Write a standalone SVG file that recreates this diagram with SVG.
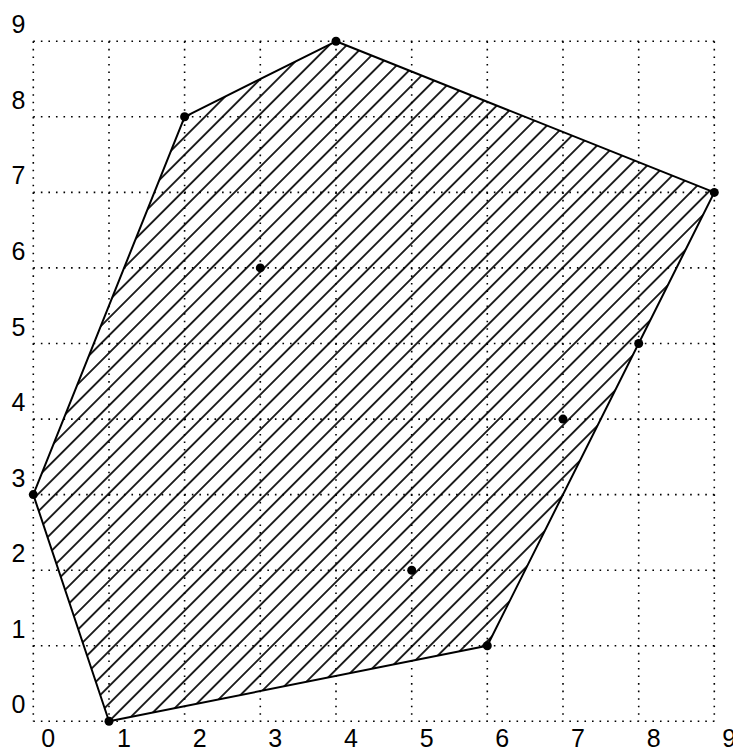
<svg xmlns="http://www.w3.org/2000/svg" width="733" height="749" viewBox="0 0 733 749">
<style>
.grid{stroke:#000;stroke-width:1.6;stroke-dasharray:1.6 5.95;fill:none}
.hull{fill:url(#hatch);stroke:#000;stroke-width:2;stroke-linejoin:round}
.pt{fill:#000}
.lbl{font-family:"Liberation Sans",Arial,sans-serif;font-size:25px;fill:#000}
</style>
<defs>
<pattern id="hatch" patternUnits="userSpaceOnUse" width="20" height="12.4" patternTransform="translate(109 721.3) rotate(-45)">
<line x1="0" y1="0" x2="20" y2="0" stroke="#000" stroke-width="1.7"/>
<line x1="0" y1="12.4" x2="20" y2="12.4" stroke="#000" stroke-width="1.7"/>
</pattern>
</defs>
<g id="grid">
<path class="grid" d="M33.3 721.3H714.3M33.3 645.7H714.3M33.3 570.2H714.3M33.3 494.6H714.3M33.3 419.1H714.3M33.3 343.5H714.3M33.3 267.9H714.3M33.3 192.4H714.3M33.3 116.8H714.3M33.3 41.3H714.3"/>
<path class="grid" d="M33.3 41.3V721.3M109 41.3V721.3M184.6 41.3V721.3M260.3 41.3V721.3M336 41.3V721.3M411.7 41.3V721.3M487.3 41.3V721.3M563 41.3V721.3M638.7 41.3V721.3M714.3 41.3V721.3"/>
</g>
<g id="axis-labels" class="lbl">
<text x="18.5" y="713.3" text-anchor="middle">0</text>
<text x="18.5" y="637.7" text-anchor="middle">1</text>
<text x="18.5" y="562.2" text-anchor="middle">2</text>
<text x="18.5" y="486.6" text-anchor="middle">3</text>
<text x="18.5" y="411.1" text-anchor="middle">4</text>
<text x="18.5" y="335.5" text-anchor="middle">5</text>
<text x="18.5" y="259.9" text-anchor="middle">6</text>
<text x="18.5" y="184.4" text-anchor="middle">7</text>
<text x="18.5" y="108.8" text-anchor="middle">8</text>
<text x="18.5" y="33.3" text-anchor="middle">9</text>
<text x="48.3" y="747" text-anchor="middle">0</text>
<text x="124" y="747" text-anchor="middle">1</text>
<text x="199.6" y="747" text-anchor="middle">2</text>
<text x="275.3" y="747" text-anchor="middle">3</text>
<text x="351" y="747" text-anchor="middle">4</text>
<text x="426.7" y="747" text-anchor="middle">5</text>
<text x="502.3" y="747" text-anchor="middle">6</text>
<text x="578" y="747" text-anchor="middle">7</text>
<text x="653.7" y="747" text-anchor="middle">8</text>
<text x="729.3" y="747" text-anchor="middle">9</text>
</g>
<g id="hull">
<polygon class="hull" points="109,721.3 33.3,494.6 184.6,116.8 336,41.3 714.3,192.4 487.3,645.7"/>
</g>
<g id="points">
<circle class="pt" cx="109" cy="721.3" r="4.5"/>
<circle class="pt" cx="33.3" cy="494.6" r="4.5"/>
<circle class="pt" cx="184.6" cy="116.8" r="4.5"/>
<circle class="pt" cx="336" cy="41.3" r="4.5"/>
<circle class="pt" cx="714.3" cy="192.4" r="4.5"/>
<circle class="pt" cx="638.7" cy="343.5" r="4.5"/>
<circle class="pt" cx="563" cy="419.1" r="4.5"/>
<circle class="pt" cx="487.3" cy="645.7" r="4.5"/>
<circle class="pt" cx="411.7" cy="570.2" r="4.5"/>
<circle class="pt" cx="260.3" cy="267.9" r="4.5"/>
</g>
</svg>
